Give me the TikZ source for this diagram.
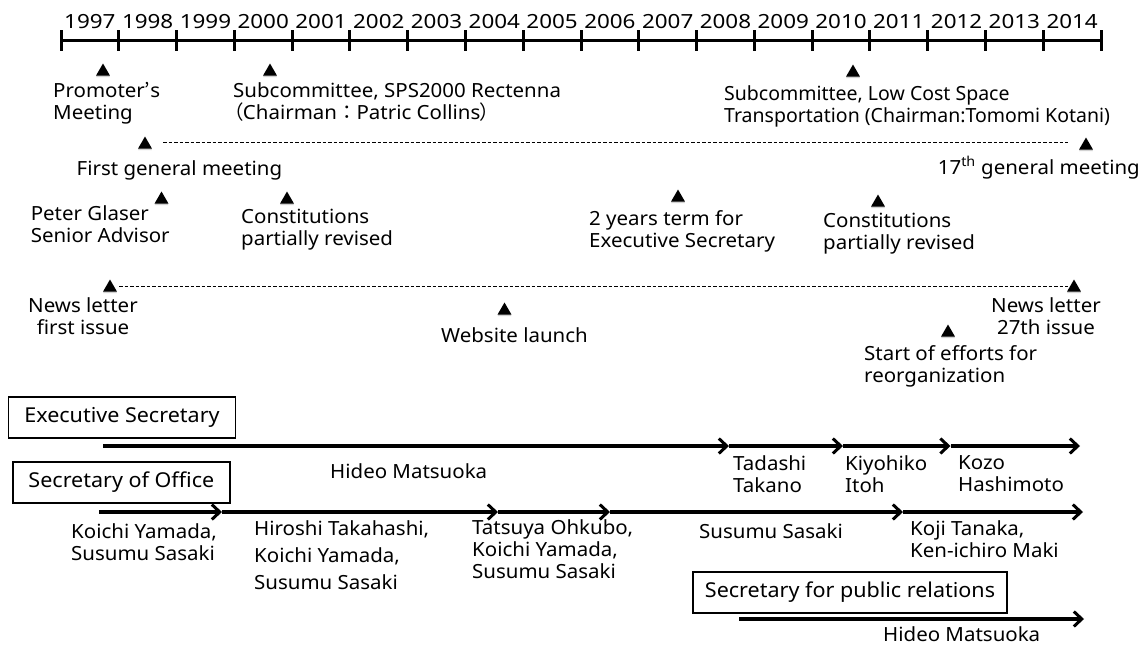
\documentclass[tikz,border=0pt]{standalone}
\usepackage{fontspec}
\setmainfont[FakeStretch=1.05]{Noto Sans}
\newfontfamily\plainsans{Noto Sans}
\newfontfamily\yearsans[FakeStretch=1.15]{Noto Sans}
\newfontfamily\cjk[RawFeature=+palt]{Noto Sans CJK JP}
\newfontfamily\cjkw{Noto Sans CJK JP}
\usepackage{tikz}
\usetikzlibrary{shapes.geometric,arrows.meta,shadows}

\newcommand\tlfont{\fontsize{19.5}{22}\selectfont}
\newcommand\boxfont{\fontsize{20.5}{22}\selectfont}

\tikzset{
    evt/.style={regular polygon, regular polygon sides=3, fill=black, inner sep=0pt,
        minimum size=16pt, drop shadow={shadow xshift=0pt, shadow yshift=-1.5pt, fill=black!35}},
    lbl/.style={anchor=north west, inner sep=0pt, align=left, font=\tlfont},
    rolebox/.style={draw, line width=1.2pt, inner sep=0pt, font=\boxfont},
    term/.style={line width=3.2pt, -{Straight Barb[length=8pt,width=15pt,line width=3pt]}},
    span/.style={line width=0.9pt, dash pattern=on 3.5pt off 2pt}
}

\begin{document}
\begin{tikzpicture}[x=1pt,y=-1pt]
	\useasboundingbox (0,0) rectangle (1142,645);
	\def\yr{57.78}

	% time axis
	\coordinate (ax0) at (61,40);
	\coordinate (ax1) at (1101,40);
	\draw[line width=3pt] (ax0) -- (ax1);
	\foreach \i in {0,...,18}
		\draw[line width=3pt] ({61+\yr*\i},30) -- ({61+\yr*\i},51);
	\foreach \y [count=\i from 0] in {1997,...,2014}
		\node[font=\tlfont\yearsans, anchor=base, inner sep=0pt] (y\y) at ({61+\yr*(\i+0.5)},28) {\y};

	% events
	\node[evt] (pm) at (103,71.5) {};
	\node[lbl] (pmt) at (53,82) {Promoter{\cjkw ’}s\\Meeting};
	\node[evt] (sps) at (270,71.5) {};
	\node[lbl] (spst) at (233,82) {Subcommittee, SPS2000 Rectenna\\{\cjk （}Chairman{\cjkw ：}Patric Collins{\cjk ）}};
	\node[evt] (lcst) at (853,72.5) {};
	\node[lbl, font=\tlfont\plainsans] (lcstt) at (724,85) {Subcommittee, Low Cost Space\\Transportation (Chairman:Tomomi Kotani)};

	\node[evt] (fgm) at (145,144.5) {};
	\node[lbl] (fgmt) at (76.5,160) {First general meeting};
	\node[evt] (g17) at (1086,145.5) {};
	\node[lbl, anchor=north east] (g17t) at (1140,156) {17\textsuperscript{th} general meeting};
	\draw[span] ([xshift=18pt,yshift=2.5pt]fgm.center) -- ([xshift=-18pt,yshift=3.5pt]g17.center);

	\node[evt] (pg) at (161.5,199.5) {};
	\node[lbl] (pgt) at (30.6,205) {Peter Glaser\\Senior Advisor};
	\node[evt] (cr1) at (287,199.5) {};
	\node[lbl] (cr1t) at (241,209) {Constitutions\\partially revised};
	\node[evt] (yt) at (678,197.5) {};
	\node[lbl] (ytt) at (589,210) {2 years term for\\Executive Secretary};
	\node[evt] (cr2) at (878,202.5) {};
	\node[lbl] (cr2t) at (823,213) {Constitutions\\partially revised};

	\node[evt] (nl1) at (110,287.5) {};
	\node[lbl, anchor=north, align=center] (nl1t) at (83,297) {News letter\\first issue};
	\node[evt] (nl27) at (1074,287.5) {};
	\node[lbl, anchor=north, align=center] (nl27t) at (1046,297) {News letter\\27th issue};
	\draw[span] ([xshift=9pt,yshift=1.5pt]nl1.center) -- ([xshift=-6pt,yshift=1.5pt]nl27.center);

	\node[evt] (web) at (504.5,310.5) {};
	\node[lbl] (webt) at (441,327) {Website launch};
	\node[evt] (reorg) at (948,332.5) {};
	\node[lbl] (reorgt) at (864,345) {Start of efforts for\\reorganization};

	% executive secretary
	\node[rolebox, minimum width=227pt, minimum height=41pt] (exbox) at (122,417.5) {Executive Secretary};
	\coordinate (es0) at (103,446);
	\coordinate (es1) at (729,446);
	\coordinate (es2) at (843,446);
	\coordinate (es3) at (950.5,446);
	\coordinate (es4) at (1080,446);
	\foreach \a/\b in {es0/es1,es1/es2,es2/es3,es3/es4}
		\draw[term] (\a) -- (\b);
	\node[lbl] (hm1) at (330,463) {Hideo Matsuoka};
	\node[lbl] (tt) at (733,455) {Tadashi\\Takano};
	\node[lbl] (ki) at (845,455) {Kiyohiko\\Itoh};
	\node[lbl] (kh) at (958,455) {Kozo\\Hashimoto};

	% secretary of office
	\node[rolebox, minimum width=217pt, minimum height=41pt] (sobox) at (121.4,482.5) {Secretary of Office};
	\coordinate (so0) at (99,512);
	\coordinate (so1) at (222,512);
	\coordinate (so2) at (498,512);
	\coordinate (so3) at (610,512);
	\coordinate (so4) at (903,512);
	\coordinate (so5) at (1083,512);
	\foreach \a/\b in {so0/so1,so1/so2,so2/so3,so3/so4,so4/so5}
		\draw[term] (\a) -- (\b);
	\node[lbl] (ky) at (71,523) {Koichi Yamada,\\Susumu Sasaki};
	\node[lbl] (ht) at (254,520) {Hiroshi Takahashi,\\[5pt]Koichi Yamada,\\[5pt]Susumu Sasaki};
	\node[lbl] (to) at (472,519) {Tatsuya Ohkubo,\\Koichi Yamada,\\Susumu Sasaki};
	\node[lbl] (ss) at (699,523) {Susumu Sasaki};
	\node[lbl] (kt) at (910,520) {Koji Tanaka,\\Ken-ichiro Maki};

	% public relations
	\node[rolebox, minimum width=314pt, minimum height=41pt] (prbox) at (850,592.5) {Secretary for public relations};
	\coordinate (pr0) at (739,619);
	\coordinate (pr1) at (1084,619);
	\draw[term] (pr0) -- (pr1);
	\node[lbl] (hm2) at (883,626) {Hideo Matsuoka};
\end{tikzpicture}
\end{document}
